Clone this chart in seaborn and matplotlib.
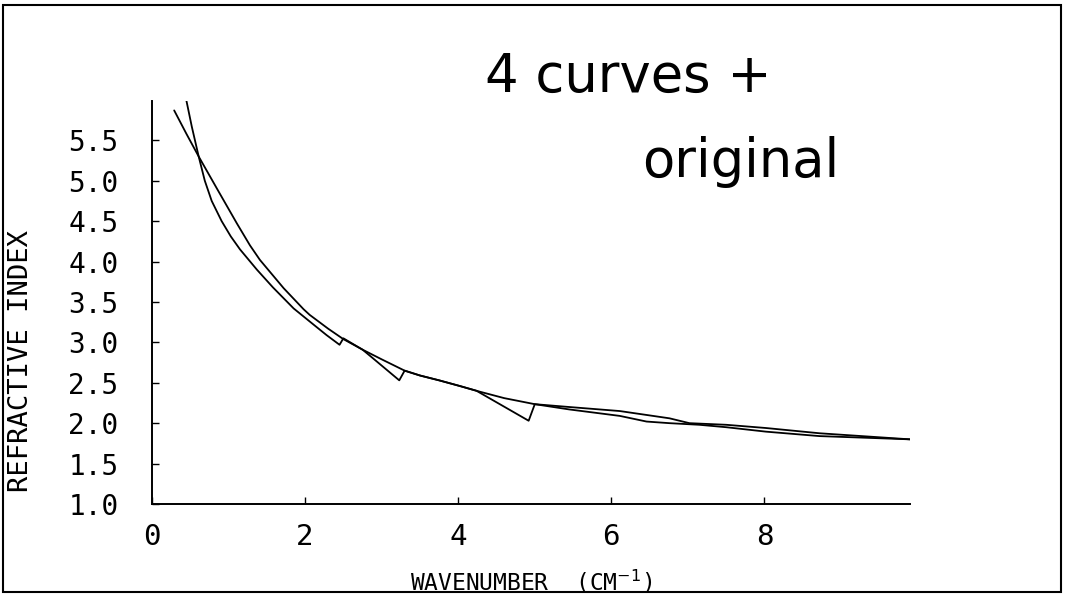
import matplotlib
matplotlib.use("Agg")
import matplotlib.pyplot as plt
import seaborn as sns
import pandas as pd
from matplotlib.patches import Rectangle

# ---- data ----
orig_x = [0.29, 0.45, 0.61, 0.85, 1.11, 1.28, 1.41, 1.72, 1.98, 2.06, 2.30, 2.50,
          2.75, 3.00, 3.30, 3.50, 3.75, 4.02, 4.28, 4.60, 5.00, 5.45, 6.11, 6.76,
          7.02, 7.50, 8.02, 8.72, 9.90]
orig_y = [5.87, 5.58, 5.30, 4.90, 4.47, 4.20, 4.02, 3.67, 3.41, 3.34, 3.17, 3.04,
          2.91, 2.79, 2.65, 2.59, 2.53, 2.46, 2.39, 2.31, 2.235, 2.20, 2.15, 2.06,
          2.00, 1.98, 1.94, 1.875, 1.80]

fit_x = [0.45, 0.52, 0.61, 0.69, 0.78, 0.91, 1.03, 1.15, 1.37, 1.58, 1.85, 2.11, 2.28, 2.45,
         2.50, 2.75, 2.89, 3.23,
         3.30, 3.50, 3.75, 4.02, 4.24, 4.92,
         5.00, 5.45, 6.11, 6.46, 6.76, 7.15, 7.50, 8.02, 8.72, 9.90]
fit_y = [5.99, 5.67, 5.30, 5.00, 4.75, 4.50, 4.31, 4.15, 3.90, 3.68, 3.42, 3.22, 3.09, 2.97,
         3.05, 2.91, 2.80, 2.53,
         2.65, 2.59, 2.53, 2.46, 2.40, 2.03,
         2.235, 2.17, 2.09, 2.02, 2.00, 1.98, 1.95, 1.895, 1.84, 1.80]

x_ticks = [0, 2, 4, 6, 8]
x_tick_labels = ["0", "2", "4", "6", "8"]
y_ticks = [1.0, 1.5, 2.0, 2.5, 3.0, 3.5, 4.0, 4.5, 5.0, 5.5]
y_tick_labels = ["1.0", "1.5", "2.0", "2.5", "3.0", "3.5", "4.0", "4.5", "5.0", "5.5"]

x_label = "WAVENUMBER  (CM$^{-1}$)"
y_label = "REFRACTIVE INDEX"
title_1 = "4 curves +"
title_2 = "original"

# ---- style ----
sns.set_style("ticks")
plt.rcParams["font.family"] = ["DejaVu Sans Mono", "DejaVu Sans"]
plt.rcParams["mathtext.fontset"] = "dejavusans"

fig = plt.figure(figsize=(10.65, 5.97), dpi=100)
fig.patch.set_facecolor("white")
ax = fig.add_axes([0.1427, 0.1558, 0.7117, 0.6755])
ax.set_facecolor("white")

df_orig = pd.DataFrame({"x": orig_x, "y": orig_y})
df_fit = pd.DataFrame({"x": fit_x, "y": fit_y})
sns.lineplot(data=df_orig, x="x", y="y", ax=ax, color="black", lw=1.3,
             sort=False, estimator=None)
sns.lineplot(data=df_fit, x="x", y="y", ax=ax, color="black", lw=1.3,
             sort=False, estimator=None)

ax.set_xlim(0, 9.9)
ax.set_ylim(1.0, 5.99)
ax.set_xticks(x_ticks)
ax.set_xticklabels(x_tick_labels)
ax.set_yticks(y_ticks)
ax.set_yticklabels(y_tick_labels)
ax.set_xlabel("")
ax.set_ylabel("")

sns.despine(ax=ax)
for s in ["left", "bottom"]:
    ax.spines[s].set_linewidth(1.4)
    ax.spines[s].set_color("black")
ax.tick_params(direction="in", length=5, width=1, colors="black")
ax.tick_params(axis="y", pad=24, labelsize=20)
ax.tick_params(axis="x", pad=14, labelsize=21)

fig.text(21 / 1065, (597 - 361) / 597, y_label, rotation=90, ha="center",
         va="center", fontsize=19.5, color="black")
fig.text(531 / 1065, (597 - 582) / 597, x_label, ha="center", va="center",
         fontsize=16.5, color="black")

fig.text(772 / 1065, (597 - 92) / 597, title_1, ha="right", va="baseline",
         fontsize=38, family="DejaVu Sans", color="black")
fig.text(642 / 1065, (597 - 177) / 597, title_2, ha="left", va="baseline",
         fontsize=38, family="DejaVu Sans", color="black")

fig.patches.append(Rectangle((3 / 1065, 5 / 597), 1058 / 1065, 587 / 597,
                             transform=fig.transFigure, fill=False,
                             lw=1.5, ec="black"))

fig.savefig("out.png", dpi=100)
